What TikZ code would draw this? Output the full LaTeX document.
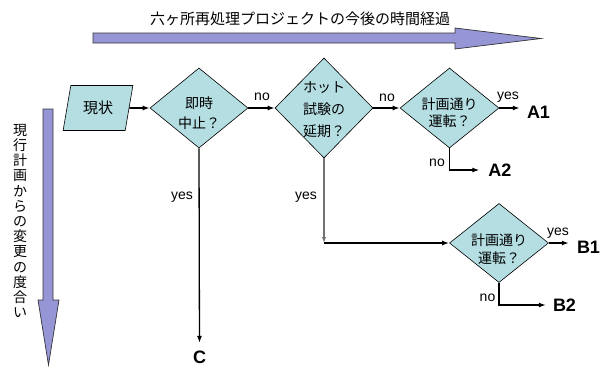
\documentclass[tikz,border=0pt]{standalone}
\usepackage{fontspec}
\setmainfont{Liberation Sans}
\newfontfamily\jp{Noto Sans CJK JP}
\usetikzlibrary{shapes.geometric,arrows.meta}
\definecolor{dfill}{RGB}{180,222,226}
\definecolor{afill}{RGB}{150,150,215}
\begin{document}
\begin{tikzpicture}[x=1pt,y=-1pt,
  dia/.style={diamond, draw=black, line width=0.6pt, fill=dfill, inner sep=0pt},
  dtext/.style={align=center, inner sep=0pt},
  lab/.style={font=\fontsize{14}{16}\selectfont, inner sep=0pt},
  res/.style={font=\bfseries\fontsize{18}{20}\selectfont, inner sep=0pt},
  conn/.style={line width=1.6pt, -{Latex[length=7pt,width=5pt]}},
  thin/.style={line width=1.3pt, -{Latex[length=7pt,width=5pt]}},
  bigarrow/.style={draw=black!80, line width=0.7pt, fill=afill}]
\useasboundingbox (0,0) rectangle (608,367);

% big arrows
\draw[bigarrow] (93,33) -- (455,33) -- (455,28) -- (541,38.5) -- (455,49) -- (455,43) -- (93,43) -- cycle;
\draw[bigarrow] (43,109) -- (53,109) -- (53,300) -- (59,300) -- (48.5,365) -- (38,300) -- (43,300) -- cycle;

\node[font=\jp\fontsize{15}{17}\selectfont, inner sep=0pt] (title) at (300,19) {六ヶ所再処理プロジェクトの今後の時間経過};
\node[font=\jp\fontsize{14}{15.2}\selectfont, align=center, inner sep=0pt] (vtext) at (20,221)
  {現\\行\\計\\画\\か\\ら\\の\\変\\更\\の\\度\\合\\い};

% shapes
\node[trapezium, trapezium left angle=73, trapezium right angle=107, trapezium stretches=true,
  minimum width=70pt, minimum height=45pt, draw, fill=dfill, line width=0.6pt, inner sep=0pt,
  font=\jp\fontsize{15}{17}\selectfont] (p) at (98,108) {現状};
\node[dia, minimum width=98pt, minimum height=80pt] (d1) at (199,108) {};
\node[dia, minimum width=98pt, minimum height=100pt] (d2) at (324,108) {};
\node[dia, minimum width=99pt, minimum height=80pt] (d3) at (449.5,108) {};
\node[dia, minimum width=99pt, minimum height=79pt] (d4) at (499,243) {};

\node[dtext, font=\jp\fontsize{14}{20}\selectfont] (t1) at ([yshift=-5pt]d1.center) {即時\\中止？};
\node[dtext, font=\jp\fontsize{14}{22}\selectfont] (t2) at ([yshift=-2pt]d2.center) {ホット\\試験の\\延期？};
\node[dtext, font=\jp\fontsize{14}{17}\selectfont] (t3) at ([yshift=-5pt]d3.center) {計画通り\\運転？};
\node[dtext, font=\jp\fontsize{14}{18}\selectfont] (t4) at ([yshift=-6pt]d4.center) {計画通り\\運転？};

% results
\node[res] (A1) at (538.5,112) {A1};
\node[res] (A2) at (500,170) {A2};
\node[res] (B1) at (588.5,247) {B1};
\node[res] (B2) at (564.5,305) {B2};
\node[res] (C) at (199.5,357.5) {C};

% connectors
\draw[conn] (p.east) -- (d1.west);
\draw[conn] (d1.east) -- (d2.west);
\draw[conn] (d2.east) -- (d3.west);
\draw[conn, shorten >=7pt] (d3.east) -- (d3.east -| A1.west);
\draw[thin, shorten >=9pt] (d3.south) |- (A2.west);
\draw[thin, shorten >=8pt] (d1.south) -- (C.north);
\coordinate (k) at (d2.south |- d4.west);
\draw[line width=1.2pt, draw=black!55, -{Latex[length=6pt,width=4.5pt]}] (d2.south) -- (k);
\draw[conn] (k) -- (d4.west);
\draw[conn, shorten >=8pt] (d4.east) -- (d4.east -| B1.west);
\draw[thin, shorten >=7pt] (d4.south) |- (B2.west);

% labels
\node[lab] (l1) at (262,97) {no};
\node[lab] (l2) at (387,98) {no};
\node[lab] (l3) at (508,97) {yes};
\node[lab] (l4) at (437,163) {no};
\node[lab] (l5) at (182,197) {yes};
\node[lab] (l6) at (306,197) {yes};
\node[lab] (l7) at (558,233) {yes};
\node[lab] (l8) at (487.5,298) {no};
\end{tikzpicture}
\end{document}
